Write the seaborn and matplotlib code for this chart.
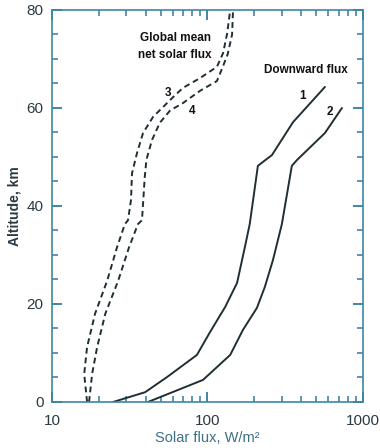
import matplotlib
matplotlib.use("Agg")
import matplotlib.pyplot as plt
import matplotlib.ticker as mticker
import numpy as np
import pandas as pd
import seaborn as sns

# Downward solar flux profiles (W/m^2 vs altitude, km)
alt_1 = [0, 2.0, 5.1, 9.6, 14.3, 19.4, 24.3, 31.6, 36.3, 48.2, 50.4, 57.1, 64.3]
flux_1 = [24.7, 39.7, 55.0, 85.5, 104, 130, 155, 174, 187, 211, 260, 355, 570]

alt_2 = [0, 4.5, 9.6, 14.7, 19.2, 23.5, 29.0, 36.3, 48.2, 49.4, 54.9, 60.0]
flux_2 = [41.4, 93.5, 140, 169, 208, 234, 264, 301, 349, 377, 570, 733]

# Global mean net solar flux profiles
alt_3 = [0, 5.7, 11.2, 18, 24.7, 31.6, 36.3, 37.1, 41.2, 46.7, 50.8, 54.9, 58.2,
         62.2, 64.1, 66.1, 68.4, 71.2, 75.3, 80]
flux_3 = [16.8, 16.1, 16.8, 18.9, 22.6, 26.2, 29.4, 30.8, 32.2, 32.7, 35.2, 38.5,
          44.7, 60, 69.5, 89.5, 115, 126, 134, 140]

alt_4 = [0, 5.7, 11.2, 18, 24.7, 31.6, 36.3, 37.1, 46, 49.5, 53.5, 57, 59.5,
         61, 63.5, 65.5, 68, 71, 75, 80]
flux_4 = [17.3, 18.1, 19.5, 22.0, 26.6, 31.3, 35.7, 37.9, 39.5, 40.5, 44, 49.4,
          57.5, 69.5, 89.5, 115, 124, 135, 144, 146]

curve_names = ["1", "2", "3", "4"]

# Axis ticks
y_major = [0, 20, 40, 60, 80]
y_minor = list(range(0, 81, 5))
x_major = [10, 100, 1000]
x_major_labels = ["10", "100", "1000"]
x_minor = [v * d for d in (10, 100) for v in range(2, 10)]

frames = []
for name, f, a in zip(curve_names, [flux_1, flux_2, flux_3, flux_4],
                      [alt_1, alt_2, alt_3, alt_4]):
    frames.append(pd.DataFrame({"flux": f, "alt": a, "curve": name}))
df = pd.concat(frames, ignore_index=True)

sns.set_theme(style="ticks")
plt.rcParams["font.family"] = ["Liberation Sans", "DejaVu Sans"]

axis_col = "#3f86a3"
line_col = "#1f2f33"
text_col = "#2b3a42"

fig = plt.figure(figsize=(3.8, 4.48), dpi=100)
ax = fig.add_axes([0.137, 0.1027, 0.818, 0.875])

styles = {"1": "", "2": "", "3": (3, 2), "4": (3, 2)}
sns.lineplot(data=df, x="flux", y="alt", hue="curve", style="curve",
             dashes=styles, palette={k: line_col for k in curve_names},
             sort=False, orient="y", estimator=None, linewidth=1.4,
             legend=False, ax=ax)

ax.set_xscale("log")
ax.set_xlim(10, 1000)
ax.set_ylim(0, 80)
ax.set_yticks(y_major)
ax.set_yticks(y_minor, minor=True)
ax.set_xticks(x_major, x_major_labels)
ax.set_xticks(x_minor, minor=True)
ax.xaxis.set_minor_formatter(mticker.NullFormatter())
ax.yaxis.set_minor_formatter(mticker.NullFormatter())

for s in ax.spines.values():
    s.set_visible(True)
    s.set_color(axis_col)
    s.set_linewidth(1.2)

# Inward tick marks on all four sides
ax.tick_params(axis="both", which="both", direction="in", colors=axis_col,
               bottom=True, left=True, top=True, right=True)
ax.tick_params(axis="both", which="major", length=7, width=1.4,
               labelsize=11, labelcolor=text_col)
ax.tick_params(axis="both", which="minor", length=4, width=1.2)
ax.tick_params(axis="x", which="major", pad=9)
ax.tick_params(axis="y", which="major", pad=6)

ax.set_xlabel("Solar flux, W/m²", fontsize=10.5, color="#3d6f85", labelpad=2)
ax.set_ylabel("Altitude, km", fontsize=10, fontweight="bold", color=text_col,
              labelpad=4)

bold = dict(fontsize=8.5, fontweight="bold", color="#111111")
ax.text(62, 74.3, "Global mean", ha="center", va="center", **bold)
ax.text(62, 70.8, "net solar flux", ha="center", va="center", **bold)
ax.text(430, 67.8, "Downward flux", ha="center", va="center", **bold)
ax.text(411, 62.4, "1", ha="center", va="center", **bold)
ax.text(614, 59.2, "2", ha="center", va="center", **bold)
ax.text(55.7, 63.0, "3", ha="center", va="center", **bold)
ax.text(79.5, 59.4, "4", ha="center", va="center", **bold)

fig.savefig("out.png", dpi=100)
